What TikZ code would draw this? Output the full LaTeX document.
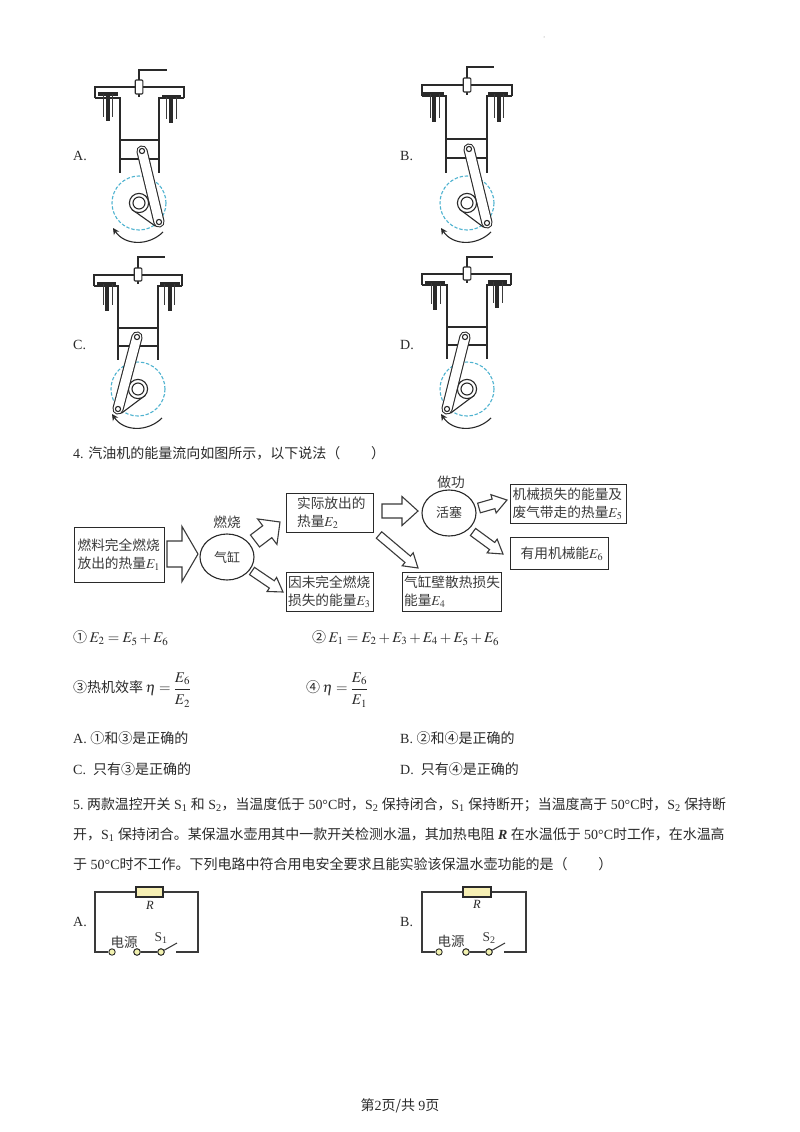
\documentclass[tikz,border=0pt]{standalone}
\usepackage[no-math]{fontspec}
\usepackage{mathptmx}
\setmainfont{Liberation Serif}
\newfontfamily\cjk{Noto Sans CJK SC}
\usetikzlibrary{calc,shapes.geometric,arrows.meta}
\definecolor{ink}{HTML}{2A2A2A}
\definecolor{soft}{HTML}{3A3A3A}
\definecolor{cyanline}{HTML}{4FB3D0}
\definecolor{resfill}{HTML}{F6EFB4}
\definecolor{termfill}{HTML}{F2F2B0}
\newcommand\bodyf{\fontsize{14}{16}\selectfont}
\newcommand\boxf{\fontsize{13.7}{18}\selectfont}
\newcommand\mathf{\fontsize{14.8}{16}\selectfont}
\newcommand\lat[1]{{\rmfamily #1}}
\newcommand\gp{\hspace{3.5pt}}
\newcommand\fracbig[2]{\displaystyle\frac{#1\rule[-3pt]{0pt}{0pt}}{\rule{0pt}{14pt}#2}}
\newcommand\enginebody[9]{%
  \draw[eng] (#1,#4) -- (#1,#3) -- (#2,#3) -- (#2,#4);
  \draw[eng] (#1,#4) -- (#5,#4) -- (#5,#9);
  \draw[eng] (#2,#4) -- (#6,#4) -- (#6,#9);
  \draw[eng] (#5,#7) -- (#6,#7);
  \draw[eng] (#5,#8) -- (#6,#8);
}
\newcommand\engineplug[5]{%
  \draw[eng] (#1,#2) -- (#1,#4) -- (#5,#4);
  \draw[eng] (#1,#2) -- (#1,#3);
  \filldraw[eng,fill=white,rounded corners=1pt] ({#1-3.8},{#2+2}) rectangle ({#1+3.8},{#3-3});
}
\newcommand\enginevalve[8]{%
  \draw[line width=3.2pt,ink] (#1,#3) -- (#2,#3);
  \draw[line width=3.2pt,ink] (#4,#3) -- (#4,#5);
  \draw[line width=1pt,soft] (#6,#3) -- (#6,#8);
  \draw[line width=1pt,soft] (#7,#3) -- (#7,#8);
}
\newcommand\enginecrank[6]{%
  \coordinate (cc) at (#1,#2);
  \coordinate (cp) at (#3,#4);
  \coordinate (pp) at (#5,#6);
  \draw[cyanline,line width=1.1pt,dash pattern=on 3.4pt off 1.8pt] (cc) circle[radius=27];
  \filldraw[eng,fill=white] ($(cc)!9.5pt!90:(cp)$) -- ($(cp)!5.5pt!-90:(cc)$) -- ($(cp)!5.5pt!90:(cc)$) -- ($(cc)!9.5pt!-90:(cp)$) -- cycle;
  \filldraw[eng,fill=white] (cc) circle[radius=9.6];
  \draw[eng] (cc) circle[radius=6];
  \draw[ink,line width=11.2pt,line cap=round] (pp) -- (cp);
  \draw[white,line width=9pt,line cap=round] (pp) -- (cp);
  \filldraw[eng,fill=white] (pp) circle[radius=2.6];
  \filldraw[eng,fill=white] (cp) circle[radius=2.6];
  \draw[eng,-{Stealth[length=6.5pt,width=6.5pt]}] ({#1+24},{#2+29}) .. controls ({#1+10},{#2+43}) and ({#1-14},{#2+43}) .. ({#1-26},{#2+25});
}
\newcommand\blockarrow[5]{%
  \coordinate (ba) at ($(#2)!#5pt!(#1)$);
  \draw[flow,line join=miter] ($(#1)!#3pt!90:(#2)$) -- ($(ba)!#3pt!90:(#2)$) -- ($(ba)!#4pt!90:(#2)$) -- (#2) -- ($(ba)!#4pt!-90:(#2)$) -- ($(ba)!#3pt!-90:(#2)$) -- ($(#1)!#3pt!-90:(#2)$) -- cycle;
}
\tikzset{
  eng/.style={ink,line width=1.1pt},
  flow/.style={soft,line width=1.1pt},
  txt/.style={anchor=west,inner sep=0pt,text=ink,font=\bodyf},
  ctxt/.style={inner sep=0pt,text=soft,font=\boxf},
  flowbox/.style={draw=ink,line width=1.1pt,inner ysep=0pt,anchor=north west,align=left,text=soft,font=\boxf},
  oval/.style={draw=ink,line width=1.1pt,ellipse,inner sep=0pt,minimum width=54pt,minimum height=46pt,text=soft},
  wire/.style={soft,line width=1.05pt},
  term/.style={circle,draw=ink,line width=0.9pt,fill=termfill,inner sep=0pt,minimum size=6.4pt},
  res/.style={draw=ink,line width=1.1pt,fill=resfill,inner sep=0pt,minimum width=27pt,minimum height=10pt},
  clabel/.style={inner sep=0pt,text=soft,font=\fontsize{13.5}{14}\selectfont},
  rlabel/.style={inner sep=0pt,font=\fontsize{12.5}{14}\selectfont\itshape,text=ink},
}
\begin{document}
\begin{tikzpicture}[x=1pt,y=-1pt]
\useasboundingbox (0,0) rectangle (800,1132);
\fill[white] (0,0) rectangle (800,1132);
\fill[gray] (544,37) circle[radius=0.5];

% Engine A
\enginebody{95}{184}{87}{98}{120}{159}{140}{159}{173}
\engineplug{139}{78}{97}{70}{167}
\enginevalve{98}{118}{94}{108}{121}{103}{112}{117}
\enginevalve{162}{181}{97}{171}{123}{166}{176}{119}
\enginecrank{139}{203}{159}{222}{142}{151}
\node[txt] (la) at (73,156) {A.};
% Engine B
\enginebody{422}{512}{85}{96}{446}{487}{139}{158}{173}
\engineplug{467}{76}{95}{67}{494}
\enginevalve{423}{444}{94}{434}{122}{430}{439}{118}
\enginevalve{488}{508}{94}{499}{122}{494}{503}{118}
\enginecrank{467}{203}{487}{223}{469}{149}
\node[txt] (lb) at (400,156) {B.};
% Engine C
\enginebody{94}{182}{275}{286}{118}{158}{328}{346}{360}
\engineplug{138}{266}{284}{257}{165}
\enginevalve{97}{116}{284}{107}{311}{103}{112}{305}
\enginevalve{160}{180}{284}{170}{311}{164}{174}{305}
\enginecrank{138}{389}{118}{409}{137}{337}
\node[txt] (lc) at (73,345) {C.};
% Engine D
\enginebody{422}{511}{274}{285}{447}{487}{327}{345}{359}
\engineplug{467}{265}{283}{257}{493}
\enginevalve{425}{445}{283}{435}{310}{431}{440}{304}
\enginevalve{488}{507}{282}{497}{308}{493}{502}{303}
\enginecrank{467}{389}{447}{409}{465}{337}
\node[txt] (ld) at (400,345) {D.};

\node[txt] (q4) at (73,453) {\lat{4.} \cjk 汽油机的能量流向如图所示，以下说法（\hspace{2.2em}）};

% Flow diagram
\node[flowbox,text width=84pt,inner xsep=3pt,minimum height=55pt] (e1) at (74,527) {\cjk 燃料完全燃烧\\放出的热量$E_1$};
\node[oval] (cyl) at (227,557) {\cjk\fontsize{13}{14}\selectfont 气缸};
\node[ctxt] (burn) at (227,522) {\cjk 燃烧};
\node[flowbox,text width=76pt,inner xsep=5.5pt,minimum height=39pt] (e2) at (286,493) {\cjk\hspace{5pt}实际放出的\\\hspace{5pt}热量$E_2$};
\node[flowbox,text width=84pt,inner xsep=1.5pt,minimum height=39pt] (e3) at (286,572) {\cjk 因未完全燃烧\\损失的能量$E_3$};
\node[oval] (pis) at (449,513) {\cjk\fontsize{13}{14}\selectfont 活塞};
\node[ctxt] (work) at (451,482) {\cjk 做功};
\node[flowbox,text width=96pt,inner xsep=1.5pt,minimum height=39pt] (e4) at (402,572) {\cjk 气缸壁散热损失\\能量$E_4$};
\node[flowbox,text width=112pt,inner xsep=2pt,minimum height=39pt] (e5) at (510,484) {\cjk 机械损失的能量及\\废气带走的热量$E_5$};
\node[flowbox,line width=1.3pt,text width=88pt,inner xsep=5pt,minimum height=32pt] (e6) at (510,537) {\cjk\hspace{5pt}有用机械能$E_6$};

\coordinate (t1) at (167,554);
\coordinate (h1) at (198,554);
\coordinate (t2) at (255,541);
\coordinate (h2) at (280,522);
\coordinate (t3) at (252,571);
\coordinate (h3) at (283,592);
\coordinate (t4) at (382,511);
\coordinate (h4) at (418,511);
\coordinate (t5) at (479,508);
\coordinate (h5) at (507,500);
\coordinate (t6) at (473,532);
\coordinate (h6) at (503,554);
\coordinate (t7) at (379,535);
\coordinate (h7) at (418,568);
\blockarrow{t1}{h1}{13}{27.5}{16}
\blockarrow{t2}{h2}{7.5}{16}{16}
\blockarrow{t3}{h3}{4.4}{8.5}{13.5}
\blockarrow{t4}{h4}{7}{14.5}{16}
\blockarrow{t5}{h5}{5}{9.5}{14}
\blockarrow{t6}{h6}{4.4}{8.5}{13.5}
\blockarrow{t7}{h7}{4.2}{8.5}{13.5}

% Statements
\node[txt] (s1) at (73,638) {\cjk ①\,\mathf$E_2=E_5+E_6$};
\node[txt] (s2) at (312,638) {\cjk ②\,\mathf$E_1=E_2+E_3+E_4+E_5+E_6$};
\node[txt] (s3) at (73,690) {\cjk ③热机效率\,\mathf$\eta=\fracbig{E_6}{E_2}$};
\node[txt] (s4) at (306,690) {\cjk ④\,\mathf$\eta=\fracbig{E_6}{E_1}$};
\node[txt] (o1) at (73,738) {\lat{A.} \cjk ①和③是正确的};
\node[txt] (o2) at (400,738) {\lat{B.} \cjk ②和④是正确的};
\node[txt] (o3) at (73,769) {\lat{C.}\ \ \cjk 只有③是正确的};
\node[txt] (o4) at (400,769) {\lat{D.}\ \ \cjk 只有④是正确的};

% Question 5
\node[txt,font=\fontsize{13.9}{16}\selectfont] (q5a) at (73,805) {\lat{5.}\gp\cjk 两款温控开关\gp\lat{S\textsubscript{1}}\gp 和\gp\lat{S\textsubscript{2}}，当温度低于\gp\lat{50°C}时，\lat{S\textsubscript{2}}\gp 保持闭合，\lat{S\textsubscript{1}}\gp 保持断开；当温度高于\gp\lat{50°C}时，\lat{S\textsubscript{2}}\gp 保持断};
\node[txt,font=\fontsize{13.95}{16}\selectfont] (q5b) at (73,835) {\cjk 开，\lat{S\textsubscript{1}}\gp 保持闭合。某保温水壶用其中一款开关检测水温，其加热电阻\gp\lat{\textit{\textbf{R}}}\gp 在水温低于\gp\lat{50°C}时工作，在水温高};
\node[txt] (q5c) at (73,864) {\cjk 于\gp\lat{50°C}时不工作。下列电路中符合用电安全要求且能实验该保温水壶功能的是（\hspace{2.2em}）};

% Circuit A
\node[res] (ra) at (149.5,892) {};
\node[rlabel] (rla) at (150,905) {R};
\node[term] (a1) at (112,952) {};
\node[term] (a2) at (137,952) {};
\node[term] (a3) at (161,952) {};
\coordinate (a4) at (176,952);
\coordinate (a5) at (177,943);
\draw[wire] (ra.west) -- (95,892) -- (95,952) -- (a1.west);
\draw[wire] (ra.east) -- (198,892) -- (198,952) -- (a4);
\draw[wire] (a2) -- (a3);
\draw[wire] (a3) -- (a5);
\node[term] at (137,952) {};
\node[term] at (161,952) {};
\node[clabel] (pa) at (124,942) {\cjk 电源};
\node[clabel] (sa) at (161,938) {S\textsubscript{1}};
\node[txt] (ca) at (73,922) {A.};
% Circuit B
\node[res,minimum width=28pt] (rb) at (477,892) {};
\node[rlabel] (rlb) at (477,904) {R};
\node[term] (b1) at (439,952) {};
\node[term] (b2) at (466,952) {};
\node[term] (b3) at (489,952) {};
\coordinate (b4) at (504,952);
\coordinate (b5) at (505,943);
\draw[wire] (rb.west) -- (422,892) -- (422,952) -- (b1.west);
\draw[wire] (rb.east) -- (526,892) -- (526,952) -- (b4);
\draw[wire] (b2) -- (b3);
\draw[wire] (b3) -- (b5);
\node[term] at (466,952) {};
\node[term] at (489,952) {};
\node[clabel] (pb) at (451,941) {\cjk 电源};
\node[clabel] (sb) at (489,938) {S\textsubscript{2}};
\node[txt] (cb) at (400,922) {B.};

\node[inner sep=0pt,text=ink,font=\bodyf] (foot) at (400,1106) {\cjk 第\lat{2}页/共 \lat{9}页};
\end{tikzpicture}
\end{document}
